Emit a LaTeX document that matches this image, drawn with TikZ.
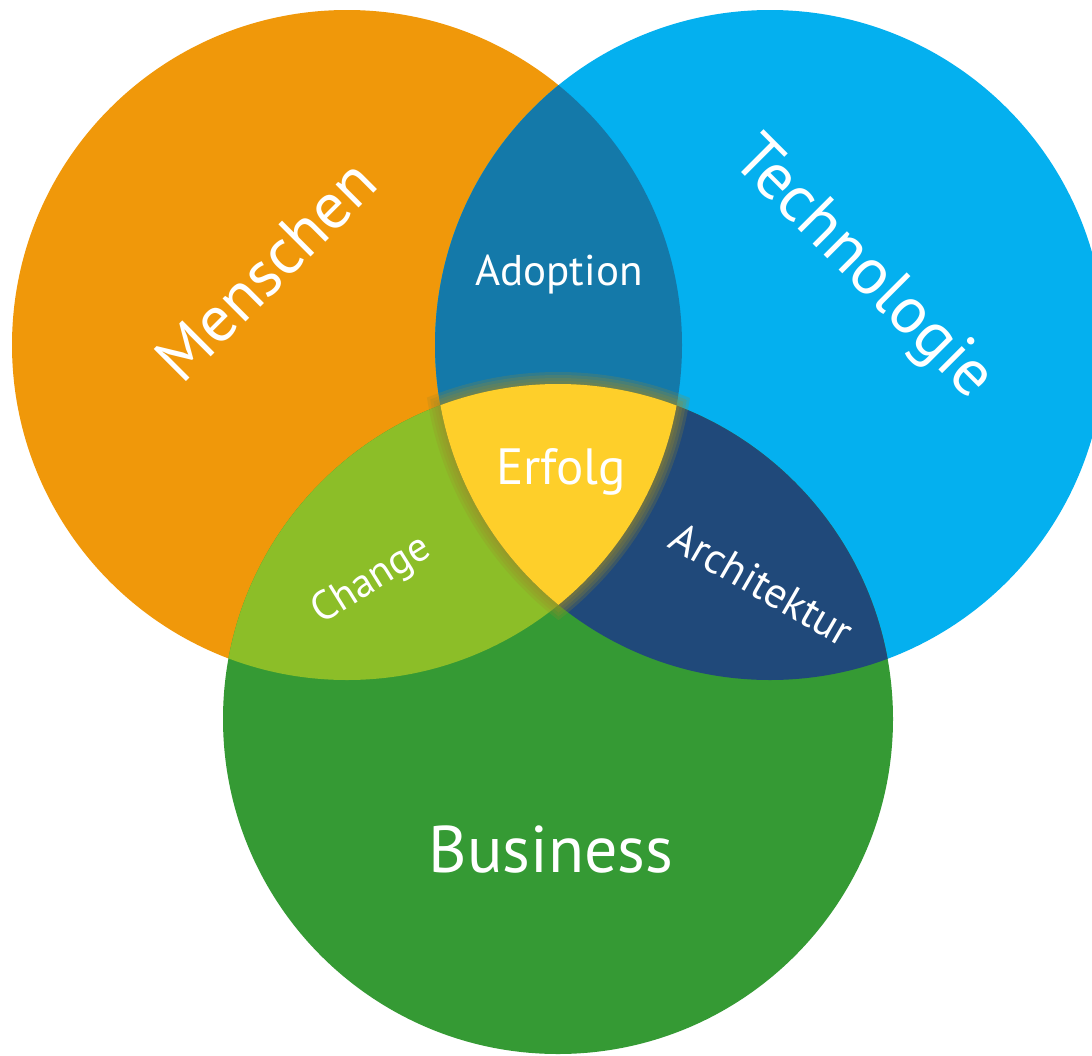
\documentclass[tikz,border=0pt]{standalone}
\usepackage{fontspec}
\setmainfont{PT Sans}
\definecolor{orangeM}{HTML}{F0980A}
\definecolor{cyanT}{HTML}{04B0EF}
\definecolor{greenB}{HTML}{359A34}
\definecolor{blueAd}{HTML}{1479A9}
\definecolor{greenCh}{HTML}{8CBE28}
\definecolor{navyAr}{HTML}{20497A}
\definecolor{yellowEr}{HTML}{FECF2A}
\definecolor{glowEr}{HTML}{9C8A28}
\tikzset{
  label/.style={text=white,inner sep=0pt},
}
\newcommand{\rad}{335}
\begin{document}
\begin{tikzpicture}[x=1pt,y=-1pt]
		\useasboundingbox (0,0) rectangle (1092,1055);
		\clip (0,0) rectangle (1092,1055);
		\coordinate (menschen) at (347,345);
		\coordinate (technik) at (770,345);
		\coordinate (business) at (558,719);
		% the three circles
		\fill[orangeM] (menschen) circle (\rad);
		\fill[cyanT] (technik) circle (\rad);
		\fill[greenB] (business) circle (\rad);
		% pairwise overlaps
		\begin{scope}
		\clip (menschen) circle (\rad);
		\fill[blueAd] (technik) circle (\rad);
		\fill[greenCh] (business) circle (\rad);
		\end{scope}
		\begin{scope}
		\clip (technik) circle (\rad);
		\fill[navyAr] (business) circle (\rad);
		\end{scope}
		% glow round the centre
		\foreach \d in {12,9,6,3}{
		\begin{scope}
		\clip (menschen) circle (\rad+\d);
		\clip (technik) circle (\rad+\d);
		\fill[glowEr,opacity=0.22] (business) circle (\rad+\d);
		\end{scope}
		}
		\begin{scope}
		\clip (menschen) circle (\rad);
		\clip (technik) circle (\rad);
		\fill[yellowEr] (business) circle (\rad);
		\end{scope}
		% labels
		\node[label,font=\fontsize{65}{65}\selectfont,rotate=45] (lblM) at (266,270) {Menschen};
		\node[label,font=\fontsize{66}{66}\selectfont,rotate=-45] (lblT) at (862,270) {Technologie};
		\node[label,font=\fontsize{66}{66}\selectfont] (lblB) at (551,850) {Business};
		\node[label,font=\fontsize{43}{43}\selectfont] (lblAd) at (559,275) {Adoption};
		\node[label,font=\fontsize{41}{41}\selectfont,rotate=32] (lblCh) at (372,581) {Change};
		\node[label,font=\fontsize{43}{43}\selectfont,rotate=-30] (lblAr) at (762,584) {Architektur};
		\node[label,font=\fontsize{51}{51}\selectfont] (lblEr) at (561,472) {Erfolg};
\end{tikzpicture}
\end{document}
